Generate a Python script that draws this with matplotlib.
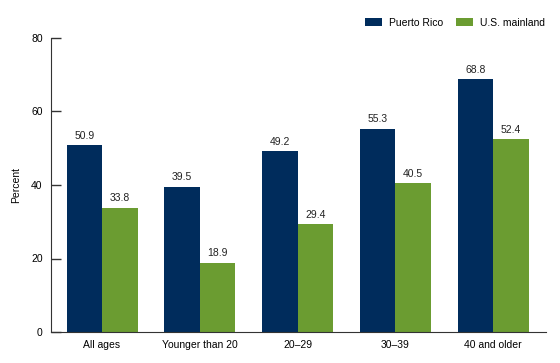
import matplotlib
matplotlib.use("Agg")
import matplotlib.pyplot as plt
import numpy as np

categories = ["All ages", "Younger than 20", "20\u201329", "30\u201339", "40 and older"]
puerto_rico = [50.9, 39.5, 49.2, 55.3, 68.8]
us_mainland = [33.8, 18.9, 29.4, 40.5, 52.4]
yticks = [0, 20, 40, 60, 80]

plt.rcParams["font.family"] = ["Liberation Sans", "DejaVu Sans"]
navy = "#002C5C"
green = "#6B9C31"

W, H = 560, 363
fig = plt.figure(figsize=(W / 100, H / 100), dpi=100)
ax = fig.add_axes([51 / W, 1 - 332 / H, (546 - 51) / W, (332 - 38) / H])

x = np.arange(len(categories))
w = 0.363
b1 = ax.bar(x - w / 2, puerto_rico, w, color=navy, label="Puerto Rico")
b2 = ax.bar(x + w / 2, us_mainland, w, color=green, label="U.S. mainland")

for bars, vals in ((b1, puerto_rico), (b2, us_mainland)):
    for r, v in zip(bars, vals):
        ax.text(r.get_x() + r.get_width() / 2, v + 1.2, f"{v:.1f}",
                ha="center", va="bottom", fontsize=7.5, color="#222222")

ax.set_xlim(-0.522, 4.542)
ax.set_ylim(0, 80)
ax.set_yticks(yticks)
ax.set_xticks(x)
ax.set_xticklabels(categories, fontsize=7.5)
ax.tick_params(axis="x", length=0, pad=6)
ax.tick_params(axis="y", direction="in", labelsize=7.5, length=7, width=1,
               pad=6, color="#333333")
ax.set_ylabel("Percent", fontsize=7.5, labelpad=7)

for s in ("top", "right"):
    ax.spines[s].set_visible(False)
ax.spines["left"].set_color("#333333")
ax.spines["bottom"].set_color("#333333")

fig.legend(handles=[b1, b2], loc="center left",
           bbox_to_anchor=((365 - 4.2) / W, 1 - 22.7 / H),
           bbox_transform=fig.transFigure, ncol=2, frameon=False,
           fontsize=7.5, handlelength=1.63, handleheight=0.75,
           columnspacing=1.25, handletextpad=0.67, borderaxespad=0)

fig.savefig("out.png", dpi=100)
